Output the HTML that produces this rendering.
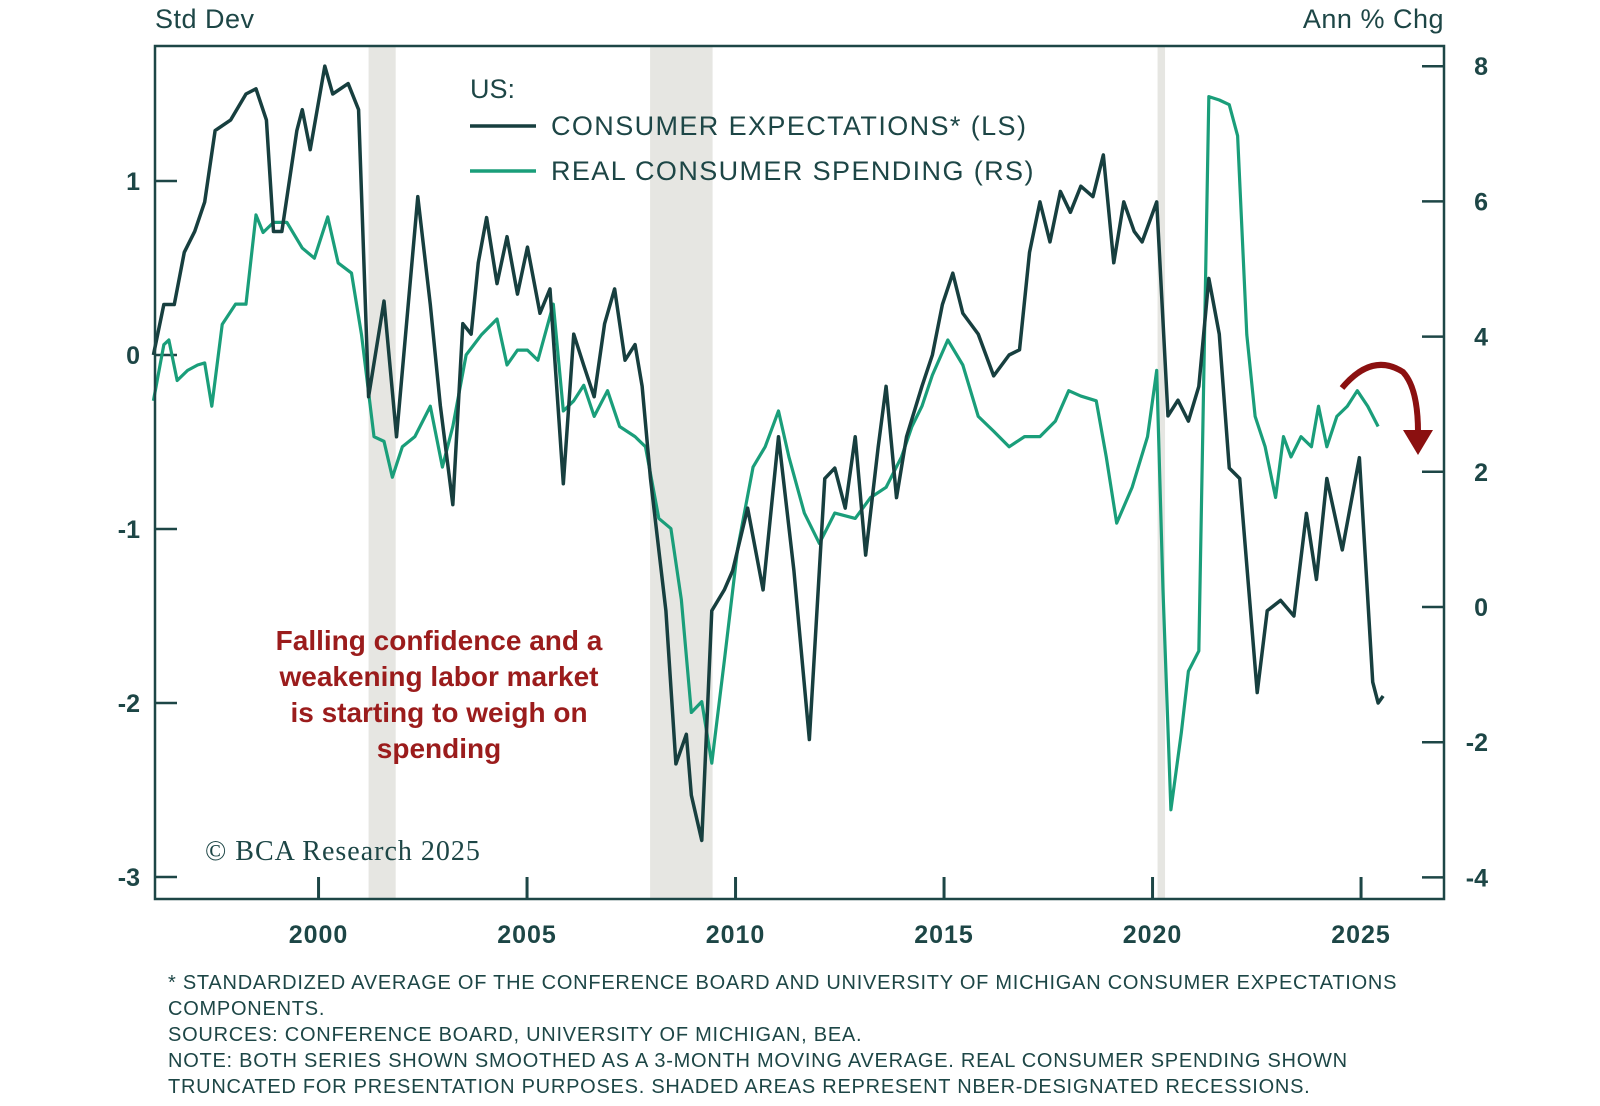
<!DOCTYPE html>
<html><head><meta charset="utf-8"><style>
body{margin:0;background:#fff;}
svg{display:block;font-family:"Liberation Sans",sans-serif;}
</style></head><body>
<svg width="1600" height="1106" viewBox="0 0 1600 1106">
<g id="rec"></g>
<g id="ticks"></g>
<g id="lines"></g>
<rect x="155" y="46" width="1289" height="853" fill="none" stroke="#1d4646" stroke-width="2.5"/>
<text x="155" y="28" font-size="27" fill="#1d4646" letter-spacing="0.5">Std Dev</text>
<text x="1444" y="28" font-size="27" fill="#1d4646" letter-spacing="0.5" text-anchor="end">Ann % Chg</text>
<g>
<text x="470" y="98" font-size="27" fill="#1d4646">US:</text>
<line x1="470" y1="126" x2="536" y2="126" stroke="#173f3f" stroke-width="3.5"/>
<text x="551" y="135" font-size="27" fill="#1d4646" letter-spacing="1.4">CONSUMER EXPECTATIONS* (LS)</text>
<line x1="470" y1="171" x2="536" y2="171" stroke="#1a9e7a" stroke-width="3.5"/>
<text x="551" y="180" font-size="27" fill="#1d4646" letter-spacing="1.4">REAL CONSUMER SPENDING (RS)</text>
</g>
<g font-size="28" font-weight="bold" fill="#9b1c1c" text-anchor="middle">
<text x="439" y="650">Falling confidence and a</text>
<text x="439" y="686">weakening labor market</text>
<text x="439" y="722">is starting to weigh on</text>
<text x="439" y="758">spending</text>
</g>
<text x="205" y="860" font-size="28" fill="#1d4646" letter-spacing="1" font-family="Liberation Serif,serif">© BCA Research 2025</text>
<path d="M1342,388 Q1372,352 1403,372 Q1418,388 1418,432" fill="none" stroke="#8b1010" stroke-width="6"/>
<polygon points="1403,430 1433,430 1418,455" fill="#8b1010"/>
<g font-size="20" fill="#1d4646" letter-spacing="0.75">
<text x="168" y="989">* STANDARDIZED AVERAGE OF THE CONFERENCE BOARD AND UNIVERSITY OF MICHIGAN CONSUMER EXPECTATIONS</text>
<text x="168" y="1015">COMPONENTS.</text>
<text x="168" y="1041">SOURCES: CONFERENCE BOARD, UNIVERSITY OF MICHIGAN, BEA.</text>
<text x="168" y="1067">NOTE: BOTH SERIES SHOWN SMOOTHED AS A 3-MONTH MOVING AVERAGE. REAL CONSUMER SPENDING SHOWN</text>
<text x="168" y="1093">TRUNCATED FOR PRESENTATION PURPOSES. SHADED AREAS REPRESENT NBER-DESIGNATED RECESSIONS.</text>
</g>
</svg>
<script>
const xTicks=[2000,2005,2010,2015,2020,2025];
const leftTicks=[1,0,-1,-2,-3];
const rightTicks=[8,6,4,2,0,-2,-4];
const recStart=[2001.2,2007.95,2020.12];
const recEnd=[2001.85,2009.45,2020.3];
const expDates=[1996.04,1996.29,1996.54,1996.78,1997.03,1997.27,1997.52,1997.89,1998.26,1998.50,1998.75,1998.92,1999.12,1999.48,1999.61,1999.80,2000.15,2000.34,2000.71,2000.96,2001.20,2001.57,2001.87,2002.38,2002.68,2002.92,2003.22,2003.46,2003.66,2003.83,2004.03,2004.28,2004.52,2004.77,2005.01,2005.31,2005.55,2005.87,2006.12,2006.36,2006.61,2006.86,2007.10,2007.35,2007.59,2007.76,2007.96,2008.33,2008.57,2008.82,2008.94,2009.19,2009.43,2009.73,2009.93,2010.29,2010.66,2011.03,2011.40,2011.77,2012.14,2012.38,2012.63,2012.87,2013.12,2013.42,2013.61,2013.86,2014.10,2014.47,2014.72,2014.96,2015.21,2015.45,2015.82,2016.19,2016.56,2016.81,2017.05,2017.30,2017.54,2017.79,2018.03,2018.28,2018.57,2018.82,2019.07,2019.31,2019.56,2019.75,2020.10,2020.37,2020.61,2020.86,2021.11,2021.35,2021.60,2021.84,2022.09,2022.51,2022.75,2023.07,2023.39,2023.69,2023.93,2024.18,2024.55,2024.96,2025.28,2025.41,2025.53];
const expValues=[0,0.29,0.29,0.59,0.71,0.88,1.29,1.35,1.5,1.53,1.35,0.71,0.71,1.29,1.41,1.18,1.66,1.5,1.56,1.41,-0.24,0.31,-0.47,0.91,0.29,-0.29,-0.86,0.18,0.12,0.53,0.79,0.41,0.68,0.35,0.62,0.24,0.38,-0.74,0.12,-0.06,-0.24,0.18,0.38,-0.03,0.06,-0.18,-0.71,-1.47,-2.35,-2.18,-2.53,-2.79,-1.47,-1.35,-1.24,-0.88,-1.35,-0.47,-1.24,-2.21,-0.71,-0.65,-0.88,-0.47,-1.15,-0.53,-0.18,-0.82,-0.47,-0.18,0,0.29,0.47,0.24,0.12,-0.12,0,0.03,0.59,0.88,0.65,0.94,0.82,0.97,0.91,1.15,0.53,0.88,0.71,0.65,0.88,-0.35,-0.26,-0.38,-0.18,0.44,0.12,-0.65,-0.71,-1.94,-1.47,-1.41,-1.5,-0.91,-1.29,-0.71,-1.12,-0.59,-1.88,-2.0,-1.96];
const spDates=[1996.04,1996.29,1996.41,1996.61,1996.86,1997.10,1997.27,1997.44,1997.69,1998.01,1998.26,1998.50,1998.67,1998.92,1999.24,1999.61,1999.90,2000.22,2000.47,2000.79,2001.03,2001.33,2001.57,2001.77,2002.01,2002.31,2002.68,2002.97,2003.22,2003.54,2003.91,2004.28,2004.52,2004.77,2005.01,2005.26,2005.63,2005.87,2006.12,2006.36,2006.61,2006.93,2007.22,2007.59,2007.84,2008.16,2008.45,2008.70,2008.94,2009.19,2009.43,2009.73,2010.05,2010.42,2010.71,2011.03,2011.28,2011.65,2012.01,2012.38,2012.87,2013.24,2013.61,2013.98,2014.23,2014.47,2014.72,2015.09,2015.45,2015.82,2016.19,2016.56,2016.93,2017.30,2017.67,2017.99,2018.28,2018.65,2018.89,2019.14,2019.51,2019.88,2020.10,2020.25,2020.44,2020.69,2020.86,2021.11,2021.35,2021.60,2021.84,2022.04,2022.26,2022.46,2022.70,2022.95,2023.14,2023.32,2023.56,2023.81,2023.98,2024.18,2024.42,2024.67,2024.91,2025.16,2025.41];
const spValues=[3.05,3.88,3.95,3.35,3.5,3.58,3.61,2.97,4.18,4.48,4.48,5.8,5.54,5.69,5.69,5.31,5.16,5.77,5.09,4.94,4.03,2.52,2.45,1.92,2.37,2.52,2.97,2.07,2.67,3.73,4.03,4.26,3.58,3.8,3.8,3.65,4.48,2.9,3.05,3.28,2.82,3.2,2.67,2.52,2.37,1.31,1.16,0.11,-1.56,-1.4,-2.31,-0.8,0.86,2.07,2.37,2.9,2.22,1.39,0.94,1.39,1.31,1.62,1.77,2.22,2.67,2.97,3.43,3.95,3.58,2.82,2.6,2.37,2.52,2.52,2.75,3.2,3.12,3.05,2.22,1.24,1.77,2.52,3.5,0.26,-3.0,-1.86,-0.95,-0.65,7.55,7.5,7.43,6.97,4.03,2.82,2.37,1.62,2.52,2.22,2.52,2.37,2.97,2.37,2.82,2.97,3.2,2.97,2.67];

const NS='http://www.w3.org/2000/svg';
const X=y=>158+(y-1996.15)*41.7;
const YL=v=>355-174*v;
const YR=v=>607-67.6*v;
function mk(tag,parent,attrs){const e=document.createElementNS(NS,tag);for(const k in attrs)e.setAttribute(k,attrs[k]);document.getElementById(parent).appendChild(e);return e;}

recStart.forEach((s,i)=>{const r=mk('rect','rec',{x:X(s),y:46,width:X(recEnd[i])-X(s),height:853,fill:'#e6e6e2'});

});

xTicks.forEach(t=>{const l=mk('line','ticks',{x1:X(t),x2:X(t),y1:899,y2:877,stroke:'#1d4646','stroke-width':3});


const tx=mk('text','ticks',{x:X(t),y:943,'text-anchor':'middle','font-size':25,'font-weight':'bold',fill:'#1d4646','letter-spacing':1});tx.textContent=t;

});
leftTicks.forEach(t=>{const l=mk('line','ticks',{x1:155,x2:177,y1:YL(t),y2:YL(t),stroke:'#1d4646','stroke-width':2.5});


const tx=mk('text','ticks',{x:140,y:YL(t)+9,'text-anchor':'end','font-size':25,'font-weight':'bold',fill:'#1d4646'});tx.textContent=t;

});
rightTicks.forEach(t=>{const l=mk('line','ticks',{x1:1422,x2:1444,y1:YR(t),y2:YR(t),stroke:'#1d4646','stroke-width':2.5});


const tx=mk('text','ticks',{x:1488,y:YR(t)+9,'text-anchor':'end','font-size':25,'font-weight':'bold',fill:'#1d4646'});tx.textContent=t;

});

const sp=mk('polyline','lines',{points:spDates.map((d,i)=>X(d)+','+YR(spValues[i])).join(' '),fill:'none',stroke:'#1a9e7a','stroke-width':3.2,'stroke-linejoin':'round'});


const ex=mk('polyline','lines',{points:expDates.map((d,i)=>X(d)+','+YL(expValues[i])).join(' '),fill:'none',stroke:'#173f3f','stroke-width':3.5,'stroke-linejoin':'round'});


</script>
</body></html>
